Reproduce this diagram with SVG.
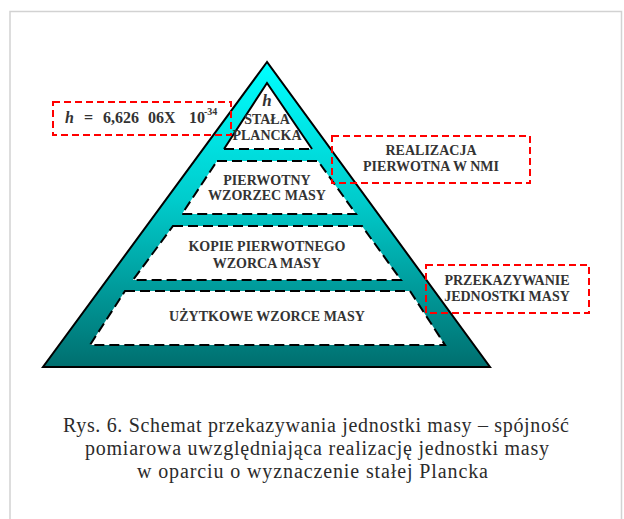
<svg xmlns="http://www.w3.org/2000/svg" width="624" height="519" viewBox="0 0 624 519">
<defs>
<linearGradient id="teal" gradientUnits="userSpaceOnUse" x1="0" y1="62" x2="0" y2="367">
<stop offset="0" stop-color="#00ffff"/>
<stop offset="0.45" stop-color="#00cccc"/>
<stop offset="1" stop-color="#006f6f"/>
</linearGradient>
<style>
.lbl{font-family:"Liberation Serif","Times New Roman",serif;font-weight:bold;font-size:14px;fill:#333;text-anchor:middle}
.band{fill:#fff;stroke:#000;stroke-width:2;stroke-dasharray:10 5}
.red{fill:none;stroke:#ff0000;stroke-width:2;stroke-dasharray:7 4}
.cap{font-family:"Liberation Serif","Times New Roman",serif;font-size:20px;fill:#2b2b2b}
</style>
</defs>
<rect x="0" y="0" width="624" height="519" fill="#fff"/>
<rect x="10" y="11.5" width="611.5" height="520" fill="#fff" stroke="#d2d2d2" stroke-width="1.5"/>
<g id="pyramid">
<polygon points="267,62 43,367 490,367" fill="url(#teal)" stroke="#000" stroke-width="2" stroke-linejoin="miter"/>
</g>
<g id="node-stala">
<polygon points="267,83 224,149 312,149" fill="#fff"/>
<polyline points="224,149 267,83 312,149" fill="none" stroke="#000" stroke-width="2"/>
<line x1="224" y1="149" x2="312" y2="149" stroke="#000" stroke-width="2" stroke-dasharray="10 5"/>
<text x="267" y="106" class="lbl" style="font-style:italic;font-size:17px">h</text>
<text x="267" y="124" class="lbl">STAŁA</text>
<text x="267" y="140" class="lbl">PLANCKA</text>
</g>
<g id="node-pierwotny">
<polygon class="band" points="217,161 318,161 356,214 182,214"/>
<text x="267" y="185" class="lbl">PIERWOTNY</text>
<text x="267" y="200" class="lbl">WZORZEC MASY</text>
</g>
<g id="node-kopie">
<polygon class="band" points="173,226 362,226 401,280 133,280"/>
<text x="267" y="251" class="lbl">KOPIE PIERWOTNEGO</text>
<text x="267" y="268" class="lbl">WZORCA MASY</text>
</g>
<g id="node-uzytkowe">
<polygon class="band" points="125,291 410,291 445,345 90,345"/>
<text x="267" y="321" class="lbl">UŻYTKOWE WZORCE MASY</text>
</g>
<g id="node-h-value">
<rect class="red" x="53" y="102" width="178" height="33"/>
<text class="lbl" style="text-anchor:start;font-size:16px" y="123"><tspan x="65" font-style="italic">h</tspan><tspan x="84">=</tspan><tspan x="103">6,626</tspan><tspan x="148">06X</tspan><tspan x="189">10</tspan><tspan x="204" dy="-8" font-size="10">-34</tspan></text>
</g>
<g id="node-realizacja">
<rect class="red" x="332" y="136" width="198" height="47"/>
<text x="431" y="155" class="lbl">REALIZACJA</text>
<text x="431" y="171" class="lbl">PIERWOTNA W NMI</text>
</g>
<g id="node-przekazywanie">
<rect class="red" x="426" y="265" width="163" height="48"/>
<text x="507" y="285" class="lbl">PRZEKAZYWANIE</text>
<text x="507" y="301" class="lbl">JEDNOSTKI MASY</text>
</g>
<g id="connectors"></g>
<g id="caption">
<text class="cap" x="63" y="432" textLength="506" lengthAdjust="spacing">Rys. 6. Schemat przekazywania jednostki masy – spójność</text>
<text class="cap" x="85" y="455" textLength="464" lengthAdjust="spacing">pomiarowa uwzględniająca realizację jednostki masy</text>
<text class="cap" x="137" y="478" textLength="351" lengthAdjust="spacing">w oparciu o wyznaczenie stałej Plancka</text>
</g>
</svg>
